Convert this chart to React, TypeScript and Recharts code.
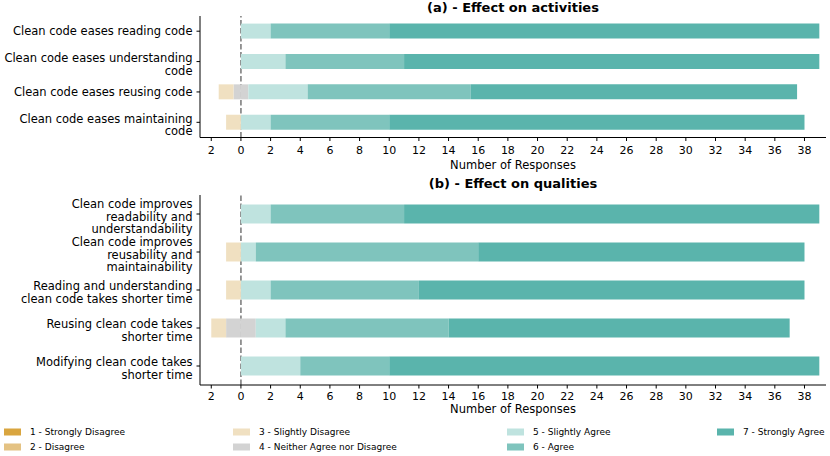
import { BarChart, Bar, XAxis, YAxis, ReferenceLine } from "recharts";

// Likert levels and their colours
const responseLevels = [
  "1 - Strongly Disagree",
  "2 - Disagree",
  "3 - Slightly Disagree",
  "4 - Neither Agree nor Disagree",
  "5 - Slightly Agree",
  "6 - Agree",
  "7 - Strongly Agree",
];
const levelColors = ["#d9a53f", "#e4c283", "#f0e0c1", "#d3d3d3", "#bfe3df", "#7fc4bd", "#5ab4ac"];

// (a) - Effect on activities
const activityLabels = [
  "Clean code eases reading code",
  "Clean code eases understanding\ncode",
  "Clean code eases reusing code",
  "Clean code eases maintaining\ncode",
];
const actStronglyDisagree = [0, 0, 0, 0];
const actDisagree = [0, 0, 0, 0];
const actSlightlyDisagree = [0, 0, 1, 1];
const actNeutral = [0, 0, 1, 0];
const actSlightlyAgree = [2, 3, 4, 2];
const actAgree = [8, 8, 11, 8];
const actStronglyAgree = [29, 28, 22, 28];

// (b) - Effect on qualities
const qualityLabels = [
  "Clean code improves\nreadability and\nunderstandability",
  "Clean code improves\nreusability and\nmaintainability",
  "Reading and understanding\nclean code takes shorter time",
  "Reusing clean code takes\nshorter time",
  "Modifying clean code takes\nshorter time",
];
const qualStronglyDisagree = [0, 0, 0, 0, 0];
const qualDisagree = [0, 0, 0, 0, 0];
const qualSlightlyDisagree = [0, 1, 1, 1, 0];
const qualNeutral = [0, 0, 0, 2, 0];
const qualSlightlyAgree = [2, 1, 2, 2, 4];
const qualAgree = [9, 15, 10, 11, 6];
const qualStronglyAgree = [28, 22, 26, 23, 29];

const xTicks = [-2, 0, 2, 4, 6, 8, 10, 12, 14, 16, 18, 20, 22, 24, 26, 28, 30, 32, 34, 36, 38];
const xDomain = [-2.76, 39.45];

const FONT = "DejaVu Sans";

// neutral answers are split around zero, disagreements go to the left
const buildRows = (labels: string[], counts: number[][]) =>
  labels.map((label, i) => ({
    label,
    neutralNeg: -counts[3][i] / 2,
    neutralPos: counts[3][i] / 2,
    slightlyDisagree: -counts[2][i],
    disagree: -counts[1][i],
    stronglyDisagree: -counts[0][i],
    slightlyAgree: counts[4][i],
    agree: counts[5][i],
    stronglyAgree: counts[6][i],
  }));

const activityRows = buildRows(activityLabels, [
  actStronglyDisagree, actDisagree, actSlightlyDisagree, actNeutral,
  actSlightlyAgree, actAgree, actStronglyAgree,
]);
const qualityRows = buildRows(qualityLabels, [
  qualStronglyDisagree, qualDisagree, qualSlightlyDisagree, qualNeutral,
  qualSlightlyAgree, qualAgree, qualStronglyAgree,
]);

const segments = [
  { key: "neutralNeg", color: levelColors[3] },
  { key: "neutralPos", color: levelColors[3] },
  { key: "slightlyDisagree", color: levelColors[2] },
  { key: "slightlyAgree", color: levelColors[4] },
  { key: "disagree", color: levelColors[1] },
  { key: "agree", color: levelColors[5] },
  { key: "stronglyDisagree", color: levelColors[0] },
  { key: "stronglyAgree", color: levelColors[6] },
];

const LabelTick = ({ x, y, payload }: any) => {
  const lines = String(payload.value).split("\n");
  const shift = lines.length > 1 ? 2.5 : -0.5;
  return (
    <text x={x} y={y} textAnchor="end" fontSize={11.5} fill="#000" fontFamily={FONT}>
      {lines.map((line, i) => (
        <tspan key={i} x={x} y={y + (i - (lines.length - 1) / 2) * 12.6 + shift + 4.2}>
          {line}
        </tspan>
      ))}
    </text>
  );
};

interface PanelProps {
  data: any[];
  height: number;
  marginTop: number;
  axisHeight: number;
  labelOffset: number;
  tickGap: number;
}

const Panel = ({ data, height, marginTop, axisHeight, labelOffset, tickGap }: PanelProps) => (
  <BarChart
    width={830}
    height={height}
    data={data}
    layout="vertical"
    stackOffset="sign"
    barCategoryGap="25%"
    margin={{ top: marginTop, right: 4, bottom: 0, left: 0 }}
  >
    <XAxis
      type="number"
      domain={xDomain}
      ticks={xTicks}
      interval={0}
      allowDataOverflow
      tickFormatter={(v: number) => String(Math.abs(v))}
      tick={{ fontSize: 11, fill: "#000", fontFamily: FONT }}
      tickSize={3.5}
      tickMargin={tickGap}
      stroke="#000"
      height={axisHeight}
      label={{
        value: "Number of Responses",
        position: "insideBottom",
        offset: labelOffset,
        fontSize: 11.5,
        fill: "#000",
        fontFamily: FONT,
      }}
    />
    <XAxis
      xAxisId="top"
      orientation="top"
      type="number"
      domain={xDomain}
      allowDataOverflow
      tick={false}
      tickLine={false}
      height={0}
      stroke="#000"
    />
    <YAxis
      type="category"
      dataKey="label"
      width={200}
      interval={0}
      tick={<LabelTick />}
      tickSize={3.5}
      tickMargin={4}
      stroke="#000"
    />
    <YAxis
      yAxisId="right"
      orientation="right"
      type="number"
      domain={[0, 1]}
      tick={false}
      tickLine={false}
      width={0}
      stroke="#000"
    />
    <ReferenceLine x={0} stroke="#7f7f7f" strokeWidth={1.6} strokeDasharray="5.5 2.5" zIndex={100} />
    {segments.map((s) => (
      <Bar key={s.key} dataKey={s.key} stackId="a" fill={s.color} isAnimationActive={false} />
    ))}
  </BarChart>
);

const legendCols = [4, 233, 507, 717];
const legendRows = [432, 447];

const App = () => (
  <div
    style={{
      position: "absolute",
      left: 0,
      top: 0,
      width: 830,
      height: 456,
      background: "#fff",
      fontFamily: FONT,
    }}
  >
    <div style={{ position: "absolute", left: 0, top: 0 }}>
      <Panel data={activityRows} height={175} marginTop={16} axisHeight={37.5} labelOffset={6} tickGap={5} />
    </div>
    <div style={{ position: "absolute", left: 0, top: 178 }}>
      <Panel data={qualityRows} height={240} marginTop={17} axisHeight={33} labelOffset={5} tickGap={4} />
    </div>
    <svg
      width={830}
      height={456}
      style={{ position: "absolute", left: 0, top: 0, pointerEvents: "none" }}
    >
      <text x={513} y={12} textAnchor="middle" fontSize={13} fontWeight="bold" fontFamily={FONT}>
        (a) - Effect on activities
      </text>
      <text x={513} y={188} textAnchor="middle" fontSize={13} fontWeight="bold" fontFamily={FONT}>
        (b) - Effect on qualities
      </text>
      {responseLevels.map((name, i) => {
        const x = legendCols[Math.floor(i / 2)];
        const y = legendRows[i % 2];
        return (
          <g key={name}>
            <rect x={x} y={y - 3.5} width={17} height={7} fill={levelColors[i]} />
            <text x={x + 26} y={y + 3.2} fontSize={9} fontFamily={FONT} fill="#000">
              {name}
            </text>
          </g>
        );
      })}
    </svg>
  </div>
);

export default App;
